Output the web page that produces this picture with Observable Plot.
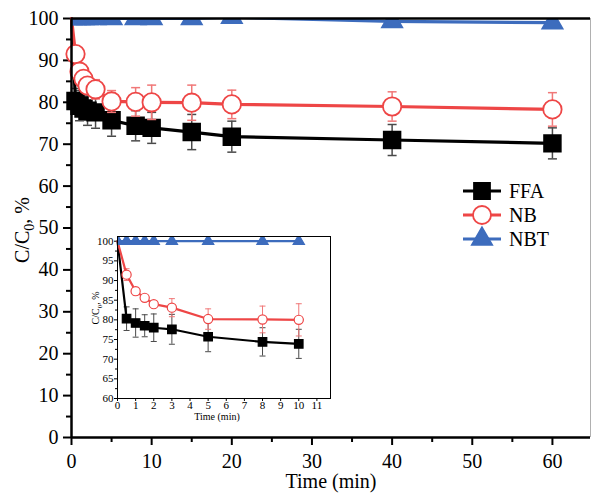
<!DOCTYPE html>
<html><head><meta charset="utf-8">
<script src="https://cdn.jsdelivr.net/npm/d3@7"></script>
<script src="https://cdn.jsdelivr.net/npm/@observablehq/plot@0.6"></script>
<style>
body{margin:0;background:#fff;}
#wrap{position:relative;width:593px;height:494px;overflow:hidden;}
#main{position:absolute;left:0;top:0;}
#inset{position:absolute;left:87px;top:234px;}
svg{overflow:visible;}
</style></head><body>
<div id="wrap"><div id="main"></div><div id="inset"></div></div>
<script>
// ---- data ----
const times  = [0, 0.5, 1, 1.5, 2, 3, 5, 8, 10, 15, 20, 40, 60];
const ffa    = [100, 80.3, 79.2, 78.5, 78.0, 77.6, 75.7, 74.4, 73.9, 72.9, 71.8, 71.0, 70.2];
const ffaErr = [0, 3.0, 3.6, 2.8, 3.5, 3.8, 3.8, 3.6, 3.7, 4.2, 3.7, 3.7, 3.7];
const nb     = [100, 91.5, 87.3, 85.6, 84.0, 83.1, 80.2, 80.1, 80.0, 79.9, 79.5, 79.0, 78.3];
const nbErr  = [0, 1.5, 1.0, 0.8, 0.8, 2.3, 2.6, 3.4, 4.1, 4.2, 3.4, 3.5, 4.0];
const nbt    = [100, 100, 100, 100, 100, 100, 100, 100, 100, 100, 100.3, 99.3, 99.0];
const seriesNames = ["FFA", "NB", "NBT"];
const xTicksMain = [0, 10, 20, 30, 40, 50, 60];
const yTicksMain = [0, 10, 20, 30, 40, 50, 60, 70, 80, 90, 100];
const xTicksInset = [0, 1, 2, 3, 4, 5, 6, 7, 8, 9, 10, 11];
const yTicksInset = [60, 65, 70, 75, 80, 85, 90, 95, 100];
const xLabel = "Time (min)";

// ---- styles ----
const FONT = "'Liberation Serif','Times New Roman',serif";
const style = {
  FFA: {color: "#000000", err: "#4a4a4a", symbol: "square", fill: "#000000"},
  NB:  {color: "#ee4646", err: "#f07878", symbol: "circle", fill: "#ffffff"},
  NBT: {color: "#3d6cbd", err: "#3d6cbd", symbol: "triangle", fill: "#3d6cbd"}
};
const values = {FFA: ffa, NB: nb, NBT: nbt};
const errs = {FFA: ffaErr, NB: nbErr, NBT: null};

const rows = [];
for (const s of seriesNames) {
  times.forEach((t, i) => rows.push({series: s, t, v: values[s][i], e: errs[s] ? errs[s][i] : 0}));
}

const capSymbol = {draw(ctx, size) { const w = Math.sqrt(size / Math.PI); ctx.moveTo(-w, 0); ctx.lineTo(w, 0); }};

function seriesMarks(data, o) {
  const marks = [];
  for (const s of seriesNames) {
    const d = data.filter(r => r.series === s);
    const st = style[s];
    const clip = s === "NBT";
    const withErr = d.filter(r => r.e > 0);
    if (withErr.length) {
      marks.push(Plot.ruleX(withErr, {x: "t", y1: r => r.v - r.e, y2: r => r.v + r.e, stroke: st.err, strokeWidth: o.errW}));
      marks.push(Plot.dot(withErr, {x: "t", y: r => r.v + r.e, symbol: capSymbol, r: o.cap, stroke: st.err, strokeWidth: o.errW, fill: "none"}));
      marks.push(Plot.dot(withErr, {x: "t", y: r => r.v - r.e, symbol: capSymbol, r: o.cap, stroke: st.err, strokeWidth: o.errW, fill: "none"}));
    }
    marks.push(Plot.line(d, {x: "t", y: "v", stroke: st.color, strokeWidth: o.lineW, clip}));
    const md = s === "NBT" ? d : d.filter(r => r.t > 0);
    marks.push(Plot.dot(md, {x: "t", y: "v", symbol: st.symbol, r: o.r[s], fill: st.fill, stroke: st.color, strokeWidth: o.dotW, clip}));
  }
  return marks;
}

// ---- main chart ----
const main = Plot.plot({
  width: 593, height: 494,
  marginLeft: 71, marginRight: 3, marginTop: 18, marginBottom: 57,
  style: {fontFamily: FONT, fontSize: "20px", background: "transparent", color: "#000"},
  x: {domain: [0, 64.75]},
  y: {domain: [0, 100]},
  marks: [
    Plot.axisY({ticks: yTicksMain, tickSize: 8, tickPadding: 5, strokeWidth: 2, label: null, fontSize: 20}),
    Plot.axisY({ticks: d3.range(5, 100, 10), tickSize: 5, text: null, label: null, strokeWidth: 2}),
    Plot.axisX({ticks: xTicksMain, tickSize: 8, tickPadding: 8, strokeWidth: 2, label: null, fontSize: 20}),
    Plot.axisX({ticks: d3.range(5, 65, 10), tickSize: 5, text: null, label: null, strokeWidth: 2}),
    Plot.ruleX([64.75], {stroke: "#b0b0b0", strokeWidth: 1}),
    ...seriesMarks(rows, {errW: 1.5, cap: 4.5, lineW: 3.2, dotW: 1.8, r: {FFA: 9.4, NB: 9.2, NBT: 7.5}}),
    Plot.ruleX([0], {strokeWidth: 2.5}),
    Plot.ruleY([0], {strokeWidth: 2.5}),
    Plot.ruleY([100], {strokeWidth: 2.5}),
    Plot.text([xLabel], {frameAnchor: "bottom", dy: 50, fontSize: 20, fill: "#000"})
  ]
});
document.getElementById("main").appendChild(main);

const msvg = d3.select(main);
const yl = msvg.append("text")
  .attr("transform", "translate(29,230) rotate(-90)")
  .attr("text-anchor", "middle").attr("font-family", FONT).attr("font-size", 20).attr("fill", "#000");
yl.append("tspan").text("C/C");
yl.append("tspan").attr("dy", 5).attr("font-size", 14).text("0");
yl.append("tspan").attr("dy", -5).text(", %");

// legend
const leg = msvg.append("g").attr("text-anchor", "start");
seriesNames.forEach((s, i) => {
  const y = 191 + i * 24;
  const st = style[s];
  const g = leg.append("g");
  g.append("line").attr("x1", 463).attr("x2", 501).attr("y1", y).attr("y2", y)
    .attr("stroke", st.color).attr("stroke-width", 3.2);
  const r = s === "NBT" ? 7.5 : 9.0;
  const symType = s === "FFA" ? d3.symbolSquare : s === "NB" ? d3.symbolCircle : d3.symbolTriangle;
  g.append("path").attr("d", d3.symbol(symType, r * r * Math.PI)())
    .attr("transform", `translate(482,${y})`)
    .attr("fill", st.fill).attr("stroke", st.color).attr("stroke-width", 1.8);
  g.append("text").attr("x", 509).attr("y", y + 7).attr("text-anchor", "start")
    .attr("font-family", FONT).attr("font-size", 20).attr("fill", "#000").text(s);
});

// ---- inset chart ----
const insetRows = rows.filter(r => r.t <= 10);
const inset = Plot.plot({
  width: 245, height: 194,
  marginLeft: 30, marginRight: 2, marginTop: 2, marginBottom: 30,
  style: {fontFamily: FONT, fontSize: "11px", background: "transparent", color: "#000"},
  x: {domain: [0, 11.75]},
  y: {domain: [60, 101.2]},
  marks: [
    Plot.frame({fill: "#fff", stroke: "none"}),
    Plot.axisY({ticks: yTicksInset, tickSize: 3, tickPadding: 1, strokeWidth: 1, label: null, fontSize: 11}),
    Plot.axisY({ticks: d3.range(62.5, 100, 5), tickSize: 2, text: null, label: null, strokeWidth: 1}),
    Plot.axisX({ticks: xTicksInset, tickSize: 3, tickPadding: 0, strokeWidth: 1, label: null, fontSize: 11}),
    ...seriesMarks(insetRows, {errW: 1, cap: 3, lineW: 2.2, dotW: 1.2, r: {FFA: 4.8, NB: 4.6, NBT: 4.2}}),
    Plot.frame({stroke: "#000", strokeWidth: 1}),
    Plot.text([xLabel], {frameAnchor: "bottom", dx: -7, dy: 21, fontSize: 10, fill: "#000"})
  ]
});
document.getElementById("inset").appendChild(inset);
const isvg = d3.select(inset);
const iyl = isvg.append("text")
  .attr("transform", "translate(12,74) rotate(-90)")
  .attr("text-anchor", "middle").attr("font-family", FONT).attr("font-size", 10).attr("fill", "#000");
iyl.append("tspan").text("C/C");
iyl.append("tspan").attr("dy", 3).attr("font-size", 7).text("0");
iyl.append("tspan").attr("dy", -3).text(", %");
</script>
</body></html>
